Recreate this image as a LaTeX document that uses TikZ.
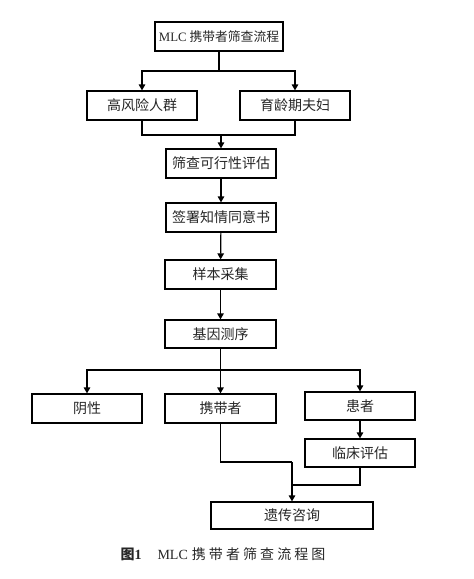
\documentclass[tikz,border=0pt]{standalone}
\usepackage{fontspec}
\setmainfont{Liberation Serif}
\newfontfamily\cjk{Noto Sans CJK SC}
\newfontfamily\cjkcap[LetterSpace=22]{Noto Sans CJK SC}
\usetikzlibrary{arrows.meta}
\begin{document}
\begin{tikzpicture}[x=1pt,y=-1pt,
  box/.style={draw,line width=1.2pt,inner sep=0pt,minimum height=29pt,minimum width=110pt,font=\fontsize{14pt}{16pt}\selectfont\cjk,text=black!85},
  link/.style={line width=1.2pt},
  arr/.style={line width=1.2pt,-{Triangle[length=6pt,width=6.5pt]}}]
\useasboundingbox (0,0) rectangle (474,579);
\node[box,minimum width=128pt,font=\fontsize{12.8pt}{15pt}\selectfont\cjk] (top) at (219,36.5) {{\rmfamily MLC} 携带者筛查流程};
\node[box] (hr) at (142,105.5) {高风险人群};
\node[box] (yl) at (295,105.5) {育龄期夫妇};
\node[box] (fe) at (221,163.5) {筛查可行性评估};
\node[box] (qs) at (221,217.5) {签署知情同意书};
\node[box,minimum width=111pt] (yb) at (220.5,274.5) {样本采集};
\node[box,minimum width=111pt,minimum height=28pt] (jy) at (220.5,334) {基因测序};
\node[box] (yx) at (87,408.5) {阴性};
\node[box,minimum width=111pt] (xd) at (220.5,408.5) {携带者};
\node[box,minimum height=28pt] (hz) at (360,406) {患者};
\node[box,minimum height=28pt] (lc) at (360,453) {临床评估};
\node[box,minimum width=162pt,minimum height=27pt] (ys) at (292,515.5) {遗传咨询};
\node[font=\fontsize{14pt}{16pt}\selectfont,text=black!85] (cap) at (223,554) {{\cjk\bfseries 图}\textbf{1}\hspace{16pt}MLC\hspace{4pt}{\cjkcap 携带者筛查流程图}};
\coordinate (j1) at (219,71);
\coordinate (j2) at (221,135);
\coordinate (j3) at (220.5,370);
\coordinate (j4) at (292,462);
\coordinate (j5) at (292,485);
\draw[link] (top.south) -- (j1);
\draw[arr] (j1) -| (hr.north);
\draw[arr] (j1) -| (yl.north);
\draw[link] (hr.south) |- (j2) -| (yl.south);
\draw[arr] (j2) -- (fe.north);
\draw[arr] (fe) -- (qs);
\draw[arr] (qs) -- (yb);
\draw[arr] (yb) -- (jy);
\draw[link] (jy.south) -- (j3);
\draw[arr] (j3) -| (yx.north);
\draw[arr] (j3) -- (xd.north);
\draw[arr] (j3) -| (hz.north);
\draw[arr] (hz) -- (lc);
\draw[link] (xd.south) |- (j4);
\draw[link] (lc.south) |- (j5);
\draw[arr] (j4) -- (ys.north);
\end{tikzpicture}
\end{document}
